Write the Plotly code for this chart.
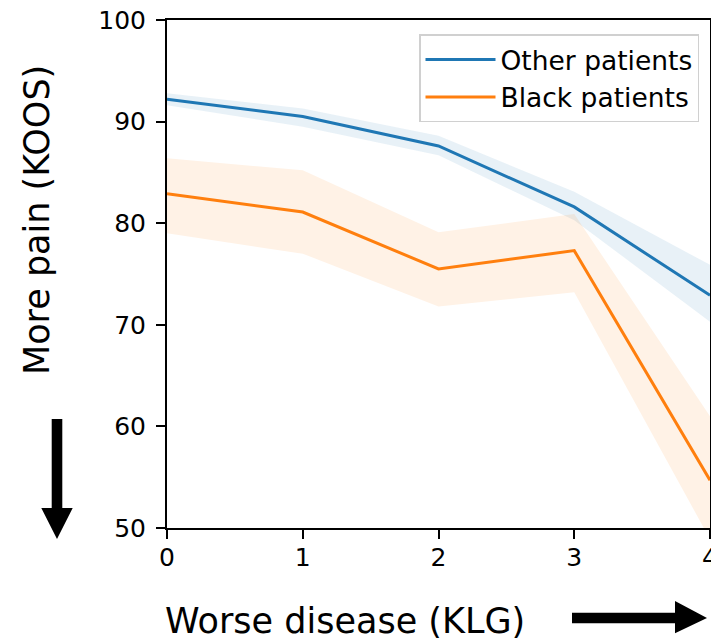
import plotly.graph_objects as go

# ---- data ----
klg = [0, 1, 2, 3, 4]
other_mean = [92.2, 90.5, 87.6, 81.6, 72.9]
other_lo = [91.6, 89.5, 86.7, 80.3, 70.3]
other_hi = [92.8, 91.3, 88.6, 83.1, 75.9]
black_mean = [82.9, 81.1, 75.5, 77.3, 54.7]
black_lo = [79.0, 77.0, 71.8, 73.2, 48.9]
black_hi = [86.4, 85.2, 79.1, 80.9, 61.0]
x_ticks = [0, 1, 2, 3, 4]
y_ticks = [50, 60, 70, 80, 90, 100]

BLUE = "#1f77b4"
ORANGE = "#ff7f0e"
FONT = "DejaVu Sans"

W, H = 711, 641
L, R, T, B = 167, 1, 20, 113
PW = W - L - R
PH = H - T - B


def px(xp):
    return (xp - L) / PW


def py(yp):
    return (H - B - yp) / PH


fig = go.Figure()


def add_series(mean, lo, hi, color, fillcol, name, group):
    fig.add_trace(go.Scatter(x=klg, y=hi, mode="lines", line=dict(width=0),
                             showlegend=False, hoverinfo="skip", legendgroup=group))
    fig.add_trace(go.Scatter(x=klg, y=lo, mode="lines", line=dict(width=0),
                             fill="tonexty", fillcolor=fillcol,
                             showlegend=False, hoverinfo="skip", legendgroup=group))
    fig.add_trace(go.Scatter(x=klg, y=mean, mode="lines", name=name,
                             legendgroup=group,
                             line=dict(color=color, width=3)))


add_series(other_mean, other_lo, other_hi, BLUE, "rgba(31,119,180,0.10)",
           "Other patients", "other")
add_series(black_mean, black_lo, black_hi, ORANGE, "rgba(255,127,14,0.10)",
           "Black patients", "black")

axis_common = dict(
    showline=True, linecolor="black", linewidth=2, mirror=True,
    ticks="outside", ticklen=9, tickwidth=2, tickcolor="black",
    showgrid=False, zeroline=False, automargin=False,
    ticklabeloverflow="allow",
    tickfont=dict(family=FONT, size=25, color="black"),
)

fig.update_xaxes(range=[0, 4], tickvals=x_ticks, ticklabelstandoff=-3, **axis_common)
fig.update_yaxes(range=[50, 100], tickvals=y_ticks, ticklabelstandoff=5, **axis_common)

# arrows
down_arrow = [(51.7, 419), (62.3, 419), (62.3, 508), (72.7, 508), (57, 539),
              (41.3, 508), (51.7, 508)]
right_arrow = [(572, 612.7), (675, 612.7), (675, 601), (707, 618), (675, 633.3),
               (675, 623.3), (572, 623.3)]


def poly(points):
    return "M " + " L ".join(f"{px(a):.5f},{py(b):.5f}" for a, b in points) + " Z"


shapes = []
for pts in (down_arrow, right_arrow):
    shapes.append(dict(type="path", xref="paper", yref="paper", path=poly(pts),
                       fillcolor="black", line=dict(width=0), layer="above"))

annotations = [
    dict(text="More pain (KOOS)", xref="paper", yref="paper",
         x=px(37.5), y=py(220.5), xanchor="center", yanchor="middle",
         textangle=-90, showarrow=False,
         font=dict(family=FONT, size=35, color="black")),
    dict(text="Worse disease (KLG)", xref="paper", yref="paper",
         x=px(345), y=py(621), xanchor="center", yanchor="middle",
         showarrow=False,
         font=dict(family=FONT, size=35, color="black")),
]

fig.update_layout(
    width=W, height=H,
    margin=dict(l=L, r=R, t=T, b=B, pad=0),
    paper_bgcolor="white", plot_bgcolor="white",
    template="none",
    shapes=shapes,
    annotations=annotations,
    legend=dict(x=px(699), y=py(34.3), xanchor="right", yanchor="top",
                traceorder="normal", tracegroupgap=5,
                bgcolor="rgba(255,255,255,0.8)", bordercolor="#d0d0d0",
                borderwidth=1.5, itemwidth=70,
                font=dict(family=FONT, size=26.5, color="black")),
    showlegend=True,
)

fig.write_html("out.html",
               config={"displayModeBar": False},
               post_script="document.body.style.margin='0';document.body.style.overflow='hidden';")
